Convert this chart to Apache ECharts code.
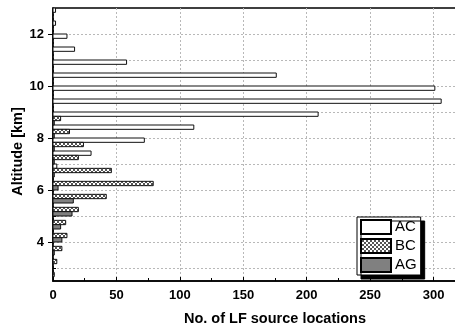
<!DOCTYPE html>
<html><head><meta charset="utf-8">
<script src="https://cdn.jsdelivr.net/npm/echarts@6/dist/echarts.min.js"></script>
<style>html,body{margin:0;padding:0;background:#fff}#c{width:455px;height:328px}</style>
</head><body><div id="c"></div>
<script>
// Altitude bins (lower bound, km), 0.5 km wide
const binLower = [2.5, 3.0, 3.5, 4.0, 4.5, 5.0, 5.5, 6.0, 6.5, 7.0, 7.5, 8.0, 8.5, 9.0, 9.5, 10.0, 10.5, 11.0, 11.5, 12.0, 12.5];
const acValues = [0, 0, 0, 0, 0, 0, 0, 0, 3, 30, 72, 111, 209, 306, 301, 176, 58, 17, 11, 2, 2];
const bcValues = [1, 3, 7, 11, 10, 20, 42, 79, 46, 20, 24, 13, 6, 0, 0, 0, 0, 0, 0, 0, 0];
const agValues = [0, 0, 1, 7, 6, 15, 16, 4, 1, 1, 1, 1, 1, 0, 0, 0, 0, 0, 0, 0, 0];
const seriesNames = ['AC', 'BC', 'AG'];
const xTickLabels = [0, 50, 100, 150, 200, 250, 300];
const yTickLabels = [4, 6, 8, 10, 12];
const yMinorTicks = [3, 5, 7, 9, 11];
const binWidth = 0.5;

const hatch = document.createElement('canvas');
hatch.width = 4; hatch.height = 4;
(function(){
  const g = hatch.getContext('2d');
  g.fillStyle = '#ffffff'; g.fillRect(0,0,4,4);
  g.fillStyle = '#555555';
  for (let i = 0; i < 4; i++) { g.fillRect(i, i, 1, 1); g.fillRect(3 - i, i, 1, 1); }
})();
const hatchFill = {image: hatch, repeat: 'repeat'};
const fills = ['#ffffff', hatchFill, '#808080'];
const slots = [2, 1, 0];
const valueSets = [acValues, bcValues, agValues];

function makeRender(slot, fill) {
  return function (params, api) {
    const lower = api.value(0), v = api.value(1);
    if (!v) return null;
    const h = binWidth / 3;
    const yLo = lower + slot * h, yHi = yLo + h;
    const p0 = api.coord([0, yHi]);
    const p1 = api.coord([v, yLo]);
    return {type: 'rect', shape: {x: p0[0], y: p0[1], width: p1[0] - p0[0], height: p1[1] - p0[1]},
      style: {fill: fill, stroke: '#111', lineWidth: 1}};
  };
}

const gridLine = {show: true, lineStyle: {color: '#b8b8b8', type: [2, 2], width: 1}};
const labelFont = {color: '#000', fontFamily: 'Liberation Sans, Arial, sans-serif', fontWeight: 'bold', fontSize: 13};
const nameFont = {color: '#000', fontFamily: 'Liberation Sans, Arial, sans-serif', fontWeight: 'bold', fontSize: 14.5};

const chart = echarts.init(document.getElementById('c'), null, {renderer: 'canvas'});
chart.setOption({
  animation: false,
  grid: {left: 53, top: 8, bottom: 47, right: -42, containLabel: false, outerBoundsMode: 'none',
    show: true, borderColor: '#000', borderWidth: 1.5, backgroundColor: '#fff'},
  xAxis: {
    type: 'value', min: 0, max: 350, interval: 50,
    name: 'No. of LF source locations', nameLocation: 'middle', nameGap: 30, nameMoveOverlap: false,
    nameTextStyle: nameFont,
    axisLine: {show: true, lineStyle: {color: '#000', width: 1.5}},
    axisTick: {show: true, inside: true, length: 4, lineStyle: {color: '#000'}},
    minorTick: {show: true, splitNumber: 2, length: 3, lineStyle: {color: '#000'}},
    axisLabel: Object.assign({margin: 8, customValues: xTickLabels}, labelFont),
    splitLine: gridLine
  },
  yAxis: [{
    type: 'value', min: 2.5, max: 13,
    name: 'Altitude [km]', nameLocation: 'middle', nameGap: 28, nameRotate: 90, nameMoveOverlap: false,
    nameTextStyle: Object.assign({}, nameFont, {padding: [0, 14, 0, 0]}),
    axisLine: {show: true, lineStyle: {color: '#000', width: 1.5}},
    axisTick: {show: true, inside: false, length: 5, customValues: yTickLabels, lineStyle: {color: '#000'}},
    axisLabel: Object.assign({margin: 9, customValues: yTickLabels}, labelFont),
    splitLine: gridLine
  }, {
    type: 'value', min: 2.5, max: 13, position: 'left',
    axisLine: {show: false},
    axisTick: {show: true, inside: true, length: 3, customValues: yMinorTicks, lineStyle: {color: '#000'}},
    axisLabel: {show: false},
    splitLine: gridLine
  }],
  legend: {
    orient: 'vertical', left: 357, top: 217, icon: 'rect',
    itemWidth: 30, itemHeight: 14, itemGap: 3, padding: [2, 4, 2, 3],
    backgroundColor: '#fff', borderColor: '#000', borderWidth: 1,
    shadowColor: '#000', shadowOffsetX: 4, shadowOffsetY: 4, shadowBlur: 0,
    textStyle: {color: '#000', fontSize: 15, fontFamily: 'Liberation Sans, Arial, sans-serif', padding: [0, 0, 0, -1]},
    data: seriesNames
  },
  series: seriesNames.map((name, k) => ({
    name: name, type: 'custom', clip: true,
    itemStyle: {color: fills[k], borderColor: '#000', borderWidth: 1},
    encode: {x: 1, y: 0},
    renderItem: makeRender(slots[k], fills[k]),
    data: binLower.map((b, i) => [b, valueSets[k][i]])
  }))
});
</script></body></html>
